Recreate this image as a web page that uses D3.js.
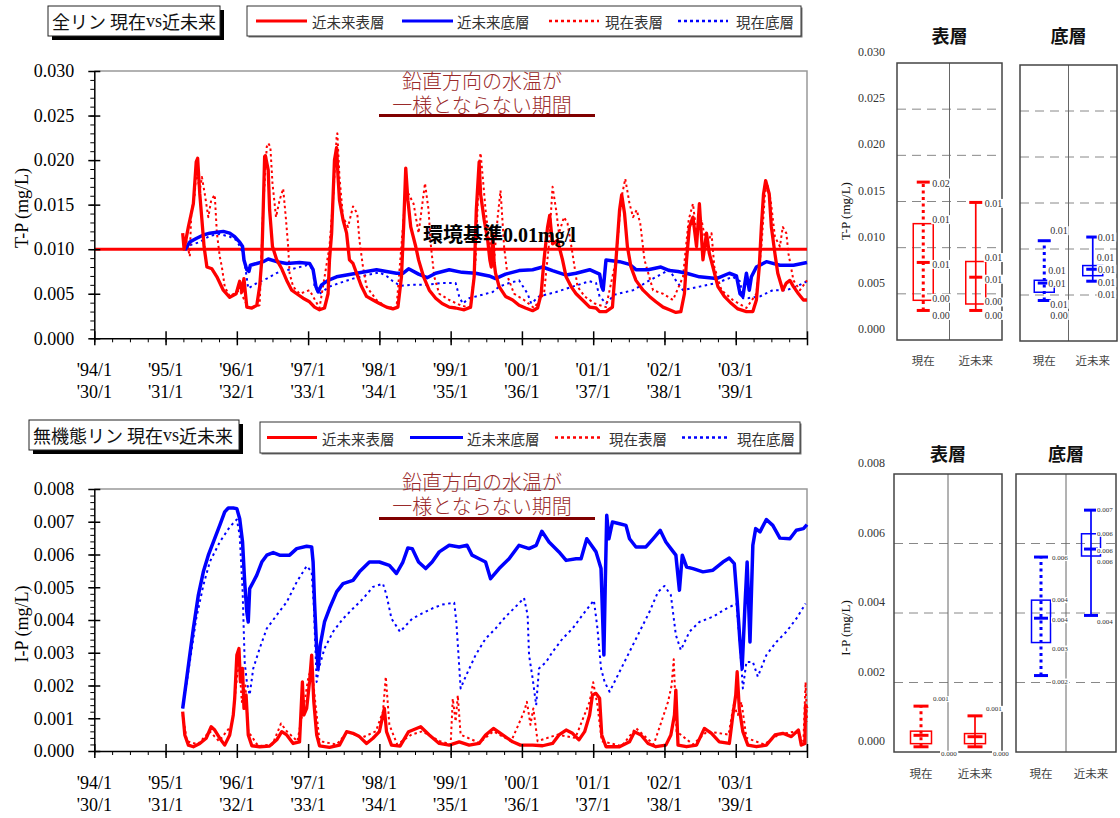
<!DOCTYPE html>
<html><head><meta charset="utf-8">
<script src="https://cdn.jsdelivr.net/npm/d3@7"></script>
<style>body{margin:0;background:#fff}svg{display:block}</style>
</head><body>
<svg id="c" width="1120" height="818"></svg>
<script>
// ---------------- DATA ----------------
const seriesNames = ["近未来表層","近未来底層","現在表層","現在底層"];
const yearTicks = [1994,1995,1996,1997,1998,1999,2000,2001,2002,2003,2004];
const tickRow1 = ["'94/1","'95/1","'96/1","'97/1","'98/1","'99/1","'00/1","'01/1","'02/1","'03/1"];
const tickRow2 = ["'30/1","'31/1","'32/1","'33/1","'34/1","'35/1","'36/1","'37/1","'38/1","'39/1"];
const tpStandard = 0.010;
const tpStandardLabel = "環境基準0.01mg/l";
const annLines = ["鉛直方向の水温が","一様とならない期間"];

// T-P 近未来表層
const tpNearSurf = [[1995.24,.0118],[1995.26,.0100],[1995.32,.0125],[1995.39,.0151],[1995.43,.0198],[1995.45,.0202],[1995.48,.0162],[1995.51,.0133],[1995.54,.0103],[1995.58,.0080],[1995.65,.0078],[1995.72,.0069],[1995.81,.0054],[1995.90,.0046],[1995.99,.0050],[1996.04,.0064],[1996.07,.0052],[1996.10,.0067],[1996.14,.0035],[1996.21,.0034],[1996.28,.0037],[1996.32,.0058],[1996.35,.0088],[1996.37,.0144],[1996.39,.0204],[1996.40,.0205],[1996.44,.0189],[1996.46,.0144],[1996.50,.0103],[1996.56,.0088],[1996.63,.0078],[1996.70,.0065],[1996.77,.0054],[1996.84,.0050],[1996.93,.0045],[1997.02,.0041],[1997.09,.0035],[1997.16,.0032],[1997.23,.0034],[1997.28,.0050],[1997.30,.0088],[1997.33,.0118],[1997.37,.0200],[1997.40,.0214],[1997.42,.0181],[1997.44,.0155],[1997.49,.0133],[1997.54,.0118],[1997.58,.0088],[1997.63,.0084],[1997.68,.0073],[1997.75,.0058],[1997.82,.0047],[1997.91,.0043],[1998.00,.0039],[1998.10,.0035],[1998.19,.0033],[1998.26,.0035],[1998.31,.0069],[1998.34,.0125],[1998.37,.0191],[1998.40,.0155],[1998.44,.0125],[1998.51,.0103],[1998.55,.0088],[1998.62,.0069],[1998.70,.0054],[1998.79,.0045],[1998.88,.0039],[1998.98,.0035],[1999.07,.0034],[1999.19,.0032],[1999.28,.0035],[1999.33,.0069],[1999.36,.0144],[1999.40,.0198],[1999.42,.0162],[1999.47,.0133],[1999.52,.0110],[1999.55,.0088],[1999.57,.0080],[1999.59,.0118],[1999.61,.0085],[1999.63,.0073],[1999.68,.0058],[1999.77,.0047],[1999.87,.0043],[1999.96,.0037],[2000.05,.0034],[2000.15,.0031],[2000.22,.0034],[2000.27,.0050],[2000.31,.0088],[2000.36,.0125],[2000.39,.0138],[2000.43,.0106],[2000.50,.0110],[2000.57,.0088],[2000.62,.0069],[2000.69,.0058],[2000.76,.0050],[2000.85,.0043],[2000.95,.0035],[2001.04,.0034],[2001.09,.0030],[2001.18,.0030],[2001.27,.0035],[2001.32,.0088],[2001.37,.0144],[2001.40,.0161],[2001.44,.0140],[2001.48,.0103],[2001.53,.0080],[2001.60,.0065],[2001.70,.0054],[2001.79,.0047],[2001.88,.0041],[2001.98,.0035],[2002.07,.0032],[2002.16,.0029],[2002.23,.0030],[2002.28,.0050],[2002.31,.0088],[2002.35,.0125],[2002.40,.0136],[2002.45,.0103],[2002.49,.0151],[2002.54,.0088],[2002.59,.0118],[2002.63,.0095],[2002.68,.0080],[2002.75,.0058],[2002.84,.0047],[2002.94,.0039],[2003.03,.0033],[2003.15,.0030],[2003.24,.0030],[2003.29,.0043],[2003.33,.0080],[2003.36,.0125],[2003.39,.0162],[2003.42,.0177],[2003.47,.0162],[2003.50,.0125],[2003.55,.0095],[2003.59,.0073],[2003.66,.0054],[2003.71,.0062],[2003.76,.0065],[2003.81,.0058],[2003.88,.0050],[2003.95,.0043],[2004.00,.0043]];
// T-P 近未来底層
const tpNearBot = [[1995.27,.0099],[1995.34,.0108],[1995.43,.0112],[1995.53,.0116],[1995.62,.0118],[1995.72,.0119],[1995.81,.0120],[1995.90,.0118],[1995.97,.0114],[1996.04,.0108],[1996.08,.0103],[1996.10,.0088],[1996.14,.0077],[1996.17,.0075],[1996.19,.0082],[1996.28,.0084],[1996.37,.0086],[1996.44,.0089],[1996.56,.0086],[1996.70,.0084],[1996.88,.0085],[1997.02,.0084],[1997.07,.0077],[1997.11,.0058],[1997.14,.0052],[1997.19,.0060],[1997.28,.0065],[1997.40,.0069],[1997.54,.0071],[1997.68,.0073],[1997.82,.0075],[1997.96,.0077],[1998.10,.0075],[1998.24,.0073],[1998.33,.0073],[1998.41,.0078],[1998.55,.0072],[1998.67,.0068],[1998.79,.0073],[1998.98,.0077],[1999.16,.0074],[1999.35,.0073],[1999.54,.0070],[1999.63,.0067],[1999.77,.0072],[1999.96,.0076],[2000.15,.0077],[2000.29,.0080],[2000.43,.0076],[2000.62,.0071],[2000.76,.0073],[2000.95,.0077],[2001.09,.0072],[2001.12,.0058],[2001.14,.0054],[2001.18,.0088],[2001.37,.0086],[2001.51,.0083],[2001.60,.0077],[2001.77,.0077],[2001.95,.0080],[2002.07,.0076],[2002.19,.0075],[2002.31,.0073],[2002.49,.0069],[2002.73,.0067],[2002.91,.0073],[2003.01,.0070],[2003.06,.0050],[2003.10,.0047],[2003.15,.0073],[2003.19,.0054],[2003.22,.0069],[2003.29,.0080],[2003.43,.0086],[2003.62,.0082],[2003.81,.0082],[2004.00,.0085]];
// T-P 現在表層
const tpPresSurf = [[1995.29,.0110],[1995.34,.0092],[1995.36,.0140],[1995.41,.0162],[1995.43,.0189],[1995.48,.0166],[1995.51,.0181],[1995.55,.0162],[1995.60,.0136],[1995.64,.0155],[1995.69,.0161],[1995.72,.0118],[1995.76,.0092],[1995.79,.0080],[1995.83,.0058],[1995.90,.0047],[1996.04,.0054],[1996.16,.0034],[1996.32,.0037],[1996.37,.0148],[1996.42,.0215],[1996.44,.0219],[1996.47,.0215],[1996.50,.0174],[1996.55,.0136],[1996.60,.0155],[1996.65,.0168],[1996.69,.0133],[1996.72,.0103],[1996.74,.0073],[1996.79,.0058],[1996.88,.0050],[1997.02,.0054],[1997.16,.0034],[1997.30,.0103],[1997.35,.0155],[1997.40,.0226],[1997.41,.0230],[1997.44,.0181],[1997.49,.0136],[1997.56,.0125],[1997.63,.0148],[1997.69,.0140],[1997.72,.0110],[1997.77,.0080],[1997.82,.0058],[1997.96,.0043],[1998.10,.0035],[1998.24,.0034],[1998.36,.0155],[1998.41,.0162],[1998.48,.0151],[1998.55,.0118],[1998.64,.0174],[1998.69,.0144],[1998.72,.0106],[1998.77,.0069],[1998.84,.0050],[1998.98,.0043],[1999.14,.0037],[1999.28,.0034],[1999.35,.0088],[1999.40,.0196],[1999.42,.0208],[1999.45,.0181],[1999.49,.0144],[1999.54,.0110],[1999.61,.0088],[1999.66,.0136],[1999.70,.0166],[1999.75,.0103],[1999.80,.0069],[1999.89,.0050],[2000.03,.0043],[2000.17,.0034],[2000.31,.0050],[2000.38,.0106],[2000.43,.0170],[2000.48,.0144],[2000.52,.0118],[2000.59,.0136],[2000.64,.0129],[2000.71,.0095],[2000.78,.0058],[2000.88,.0047],[2001.02,.0039],[2001.18,.0035],[2001.32,.0088],[2001.39,.0155],[2001.45,.0179],[2001.51,.0151],[2001.56,.0136],[2001.61,.0144],[2001.66,.0129],[2001.72,.0088],[2001.84,.0054],[2001.98,.0050],[2002.12,.0043],[2002.26,.0069],[2002.34,.0133],[2002.40,.0151],[2002.45,.0118],[2002.52,.0133],[2002.59,.0103],[2002.66,.0118],[2002.70,.0080],[2002.80,.0054],[2002.96,.0043],[2003.15,.0034],[2003.29,.0050],[2003.36,.0103],[2003.41,.0162],[2003.44,.0174],[2003.49,.0155],[2003.55,.0114],[2003.62,.0103],[2003.66,.0125],[2003.71,.0118],[2003.74,.0095],[2003.81,.0065],[2003.90,.0054],[2004.00,.0065]];
// T-P 現在底層
const tpPresBot = [[1995.27,.0101],[1995.36,.0105],[1995.48,.0108],[1995.62,.0115],[1995.76,.0117],[1995.90,.0114],[1996.00,.0110],[1996.09,.0095],[1996.13,.0073],[1996.16,.0056],[1996.28,.0062],[1996.42,.0067],[1996.60,.0075],[1996.79,.0078],[1996.98,.0082],[1997.07,.0078],[1997.09,.0058],[1997.16,.0050],[1997.30,.0058],[1997.44,.0062],[1997.63,.0067],[1997.82,.0071],[1998.00,.0074],[1998.10,.0070],[1998.19,.0064],[1998.29,.0059],[1998.46,.0060],[1998.65,.0060],[1998.88,.0062],[1999.07,.0062],[1999.12,.0047],[1999.17,.0039],[1999.26,.0045],[1999.45,.0049],[1999.59,.0052],[1999.68,.0058],[1999.82,.0062],[1999.96,.0065],[2000.08,.0050],[2000.13,.0039],[2000.24,.0047],[2000.48,.0052],[2000.71,.0058],[2000.95,.0064],[2001.04,.0062],[2001.09,.0047],[2001.18,.0039],[2001.30,.0049],[2001.56,.0054],[2001.79,.0065],[2001.98,.0073],[2002.07,.0077],[2002.16,.0065],[2002.26,.0054],[2002.49,.0058],[2002.73,.0062],[2002.96,.0069],[2003.06,.0064],[2003.10,.0045],[2003.17,.0045],[2003.34,.0047],[2003.52,.0054],[2003.71,.0054],[2003.85,.0058],[2004.00,.0064]];

// I-P 近未来表層
const ipNearSurf = [[1995.24,.00120],[1995.27,.00049],[1995.32,.00018],[1995.39,.00013],[1995.48,.00023],[1995.57,.00039],[1995.64,.00074],[1995.69,.00064],[1995.76,.00039],[1995.83,.00018],[1995.90,.00049],[1995.95,.00110],[1995.97,.00161],[1996.00,.00293],[1996.03,.00313],[1996.05,.00211],[1996.08,.00252],[1996.10,.00130],[1996.13,.00171],[1996.16,.00049],[1996.21,.00016],[1996.32,.00013],[1996.46,.00015],[1996.56,.00034],[1996.63,.00059],[1996.70,.00049],[1996.79,.00023],[1996.88,.00028],[1996.92,.00211],[1996.94,.00110],[1996.98,.00130],[1997.02,.00211],[1997.05,.00293],[1997.08,.00150],[1997.12,.00049],[1997.16,.00016],[1997.30,.00011],[1997.44,.00018],[1997.54,.00059],[1997.63,.00054],[1997.72,.00044],[1997.82,.00023],[1997.91,.00039],[1998.00,.00059],[1998.07,.00130],[1998.10,.00059],[1998.17,.00018],[1998.29,.00015],[1998.41,.00059],[1998.58,.00074],[1998.70,.00049],[1998.84,.00023],[1998.98,.00018],[1999.12,.00028],[1999.26,.00018],[1999.40,.00023],[1999.49,.00049],[1999.60,.00069],[1999.73,.00049],[1999.87,.00028],[1999.98,.00018],[2000.15,.00018],[2000.29,.00016],[2000.43,.00023],[2000.52,.00049],[2000.62,.00064],[2000.71,.00054],[2000.80,.00034],[2000.88,.00059],[2000.95,.00110],[2000.99,.00171],[2001.04,.00176],[2001.09,.00161],[2001.12,.00049],[2001.18,.00013],[2001.37,.00013],[2001.51,.00028],[2001.58,.00059],[2001.67,.00049],[2001.77,.00023],[2001.88,.00013],[2002.02,.00018],[2002.09,.00049],[2002.14,.00110],[2002.16,.00186],[2002.19,.00018],[2002.31,.00013],[2002.45,.00018],[2002.56,.00069],[2002.66,.00054],[2002.77,.00028],[2002.91,.00023],[2002.96,.00110],[2003.00,.00171],[2003.02,.00242],[2003.05,.00130],[2003.10,.00059],[2003.17,.00018],[2003.29,.00013],[2003.43,.00018],[2003.55,.00049],[2003.66,.00054],[2003.78,.00044],[2003.88,.00064],[2003.92,.00018],[2003.97,.00023],[2003.98,.00140],[2004.00,.00130]];
// I-P 近未来底層
const ipNearBot = [[1995.24,.00130],[1995.29,.00211],[1995.34,.00293],[1995.39,.00374],[1995.46,.00476],[1995.53,.00547],[1995.60,.00598],[1995.67,.00638],[1995.76,.00689],[1995.83,.00730],[1995.88,.00742],[1995.95,.00742],[1996.00,.00740],[1996.04,.00709],[1996.08,.00638],[1996.11,.00516],[1996.14,.00425],[1996.16,.00394],[1996.18,.00496],[1996.23,.00516],[1996.28,.00537],[1996.35,.00577],[1996.42,.00598],[1996.51,.00606],[1996.60,.00598],[1996.74,.00598],[1996.84,.00618],[1996.98,.00625],[1997.05,.00623],[1997.07,.00577],[1997.09,.00455],[1997.12,.00313],[1997.14,.00252],[1997.17,.00323],[1997.23,.00394],[1997.30,.00435],[1997.40,.00486],[1997.49,.00511],[1997.63,.00521],[1997.72,.00547],[1997.86,.00577],[1998.00,.00577],[1998.14,.00567],[1998.24,.00542],[1998.33,.00577],[1998.40,.00620],[1998.46,.00618],[1998.55,.00577],[1998.65,.00557],[1998.74,.00577],[1998.84,.00608],[1998.98,.00628],[1999.12,.00623],[1999.23,.00628],[1999.30,.00598],[1999.40,.00587],[1999.49,.00577],[1999.56,.00526],[1999.68,.00557],[1999.82,.00587],[1999.96,.00628],[2000.10,.00618],[2000.20,.00628],[2000.28,.00671],[2000.38,.00638],[2000.52,.00608],[2000.62,.00582],[2000.76,.00587],[2000.83,.00587],[2000.91,.00648],[2001.04,.00608],[2001.11,.00557],[2001.15,.00293],[2001.17,.00516],[2001.19,.00720],[2001.22,.00648],[2001.27,.00699],[2001.37,.00694],[2001.46,.00689],[2001.51,.00648],[2001.60,.00623],[2001.74,.00623],[2001.84,.00648],[2001.94,.00674],[2002.02,.00638],[2002.09,.00618],[2002.16,.00598],[2002.21,.00491],[2002.25,.00598],[2002.31,.00562],[2002.40,.00557],[2002.54,.00547],[2002.68,.00552],[2002.82,.00577],[2002.91,.00589],[2002.98,.00572],[2003.02,.00460],[2003.06,.00333],[2003.09,.00252],[2003.13,.00445],[2003.16,.00577],[2003.20,.00333],[2003.24,.00628],[2003.28,.00679],[2003.34,.00669],[2003.43,.00707],[2003.52,.00689],[2003.62,.00650],[2003.76,.00648],[2003.85,.00674],[2003.95,.00679],[2004.00,.00691]];
// I-P 現在表層
const ipPresSurf = [[1995.24,.00110],[1995.30,.00030],[1995.45,.00020],[1995.62,.00060],[1995.75,.00030],[1995.93,.00080],[1996.00,.00220],[1996.03,.00280],[1996.07,.00150],[1996.12,.00200],[1996.16,.00060],[1996.30,.00015],[1996.50,.00020],[1996.62,.00084],[1996.70,.00060],[1996.85,.00030],[1996.95,.00150],[1997.00,.00220],[1997.05,.00260],[1997.10,.00150],[1997.16,.00030],[1997.40,.00020],[1997.56,.00060],[1997.75,.00040],[1997.95,.00060],[1998.05,.00120],[1998.09,.00227],[1998.14,.00080],[1998.25,.00020],[1998.45,.00050],[1998.60,.00060],[1998.85,.00030],[1999.00,.00020],[1999.03,.00160],[1999.07,.00090],[1999.10,.00170],[1999.14,.00050],[1999.40,.00025],[1999.60,.00060],[1999.85,.00030],[2000.03,.00120],[2000.07,.00150],[2000.12,.00080],[2000.16,.00130],[2000.22,.00030],[2000.50,.00050],[2000.75,.00040],[2000.95,.00150],[2001.00,.00210],[2001.06,.00140],[2001.12,.00030],[2001.40,.00015],[2001.60,.00070],[2001.85,.00020],[2002.05,.00150],[2002.10,.00200],[2002.13,.00280],[2002.17,.00060],[2002.40,.00020],[2002.60,.00060],[2002.90,.00050],[2002.97,.00140],[2003.03,.00110],[2003.08,.00150],[2003.15,.00040],[2003.40,.00020],[2003.60,.00050],[2003.85,.00060],[2003.95,.00030],[2003.98,.00210],[2004.00,.00090]];
// I-P 現在底層
const ipPresBot = [[1995.24,.00130],[1995.34,.00272],[1995.43,.00404],[1995.53,.00506],[1995.62,.00577],[1995.76,.00638],[1995.90,.00684],[1996.00,.00707],[1996.04,.00659],[1996.08,.00496],[1996.11,.00272],[1996.14,.00211],[1996.18,.00171],[1996.23,.00252],[1996.32,.00313],[1996.42,.00374],[1996.56,.00415],[1996.70,.00455],[1996.84,.00516],[1996.98,.00565],[1997.05,.00547],[1997.08,.00445],[1997.12,.00211],[1997.15,.00252],[1997.23,.00313],[1997.35,.00364],[1997.49,.00404],[1997.63,.00435],[1997.77,.00465],[1997.91,.00501],[1998.05,.00511],[1998.10,.00476],[1998.17,.00404],[1998.29,.00364],[1998.46,.00404],[1998.60,.00420],[1998.74,.00435],[1998.88,.00447],[1999.05,.00453],[1999.08,.00394],[1999.11,.00293],[1999.14,.00191],[1999.21,.00227],[1999.35,.00293],[1999.49,.00343],[1999.63,.00374],[1999.77,.00410],[1999.91,.00440],[2000.03,.00467],[2000.08,.00415],[2000.10,.00293],[2000.15,.00222],[2000.20,.00140],[2000.24,.00252],[2000.34,.00272],[2000.43,.00303],[2000.57,.00343],[2000.71,.00374],[2000.85,.00415],[2001.01,.00460],[2001.06,.00374],[2001.11,.00252],[2001.16,.00211],[2001.23,.00181],[2001.37,.00242],[2001.51,.00303],[2001.65,.00364],[2001.79,.00425],[2001.91,.00486],[2002.00,.00504],[2002.09,.00476],[2002.16,.00354],[2002.23,.00308],[2002.35,.00364],[2002.49,.00394],[2002.68,.00410],[2002.87,.00435],[2003.01,.00450],[2003.06,.00323],[2003.10,.00191],[2003.15,.00272],[2003.24,.00272],[2003.31,.00227],[2003.43,.00293],[2003.57,.00333],[2003.71,.00364],[2003.85,.00404],[2003.98,.00450]];

// Box plots: [lower whisker, Q1, median, Q3, upper whisker]
const boxCats = ["現在","近未来"];
const tpSurfBox = [[0.0032,0.0043,0.0084,0.0126,0.0171],[0.0032,0.0039,0.0068,0.0085,0.0149]];
const tpBotBox  = [[0.0044,0.0053,0.0063,0.0066,0.0109],[0.0065,0.0071,0.0078,0.0082,0.0113]];
const ipSurfBox = [[0.00015,0.00024,0.00048,0.00060,0.00132],[0.00015,0.00024,0.00044,0.00053,0.00104]];
const ipBotBox  = [[0.0022,0.00315,0.00385,0.00437,0.00561],[0.00393,0.00564,0.00584,0.00628,0.00696]];

// ---------------- DRAWING ----------------
const svg = d3.select("#c");
const SERIF = "'Liberation Serif','Times New Roman',serif";
const SANS = "'Noto Sans CJK JP','Noto Sans',sans-serif";
const RED = "#ff0000", BLUE = "#0000ff";
const styles = [
  {color:RED, dash:null, w:3.3},
  {color:BLUE, dash:null, w:3.5},
  {color:RED, dash:"2.5,3", w:2},
  {color:BLUE, dash:"2.5,3.5", w:2}
];

const x = d3.scaleLinear().domain([1994,2004]).range([94.3,807]);

function titleBox(o){
  const g = svg.append("g");
  g.append("rect").attr("x",o.x+4).attr("y",o.y+4).attr("width",o.w).attr("height",o.h).attr("fill","#000");
  g.append("rect").attr("x",o.x).attr("y",o.y).attr("width",o.w).attr("height",o.h).attr("fill","#fff").attr("stroke","#222").attr("stroke-width",1);
  const t = g.append("text").attr("x",o.x+4).attr("y",o.y+o.h/2).attr("dominant-baseline","central")
    .attr("font-family",SANS).attr("font-size",o.fs).attr("fill","#111");
  o.parts.forEach(p=>t.append("tspan").attr("font-family",p[1]?SERIF:SANS).text(p[0]));
}

function legendBox(o){
  const g = svg.append("g");
  g.append("rect").attr("x",o.x+1.5).attr("y",o.y+1.5).attr("width",o.w).attr("height",o.h).attr("fill","#777");
  g.append("rect").attr("x",o.x).attr("y",o.y).attr("width",o.w).attr("height",o.h).attr("fill","#fff").attr("stroke","#333").attr("stroke-width",1);
  const cy = o.y+o.h/2;
  seriesNames.forEach((n,i)=>{
    const s = styles[i], it = o.items[i];
    g.append("line").attr("x1",it[0]).attr("x2",it[1]).attr("y1",cy).attr("y2",cy)
      .attr("stroke",s.color).attr("stroke-width",s.dash?2.5:3).attr("stroke-dasharray",s.dash?"3,3":null);
    g.append("text").attr("x",it[2]).attr("y",cy+0.5).attr("dominant-baseline","central")
      .attr("font-family",SANS).attr("font-size",14.5).attr("fill","#333").text(n);
  });
}

function drawMain(o){
  const g = svg.append("g");
  const y = d3.scaleLinear().domain([0,o.yMax]).range([o.bottom,o.top]);
  // frame (top/right)
  g.append("path").attr("d",`M${x(1994)},${o.top}H${x(2004)}V${o.bottom}`)
    .attr("fill","none").attr("stroke","#999").attr("stroke-width",1.5);
  // annotation (two lines)
  annLines.forEach((s,i)=>g.append("text").attr("x",482).attr("y",o.ann[i]).attr("text-anchor","middle")
    .attr("dominant-baseline","central").attr("font-family",SANS).attr("font-weight",300)
    .attr("font-size",20).attr("fill","#9a2a2a").text(s));
  g.append("line").attr("x1",379).attr("x2",595).attr("y1",o.ann[2]).attr("y2",o.ann[2])
    .attr("stroke","#800000").attr("stroke-width",3);
  // standard line
  if(o.std!=null){
    g.append("line").attr("x1",x(1994)).attr("x2",x(2004)).attr("y1",y(o.std)).attr("y2",y(o.std))
      .attr("stroke",RED).attr("stroke-width",3);
  }
  // series (dotted first, then solid)
  const line = d3.line().x(d=>x(d[0])).y(d=>y(d[1]));
  [3,2,1,0].forEach(i=>{
    const s = styles[i];
    g.append("path").datum(o.series[i]).attr("d",line).attr("fill","none")
      .attr("stroke",s.color).attr("stroke-width",s.w).attr("stroke-linejoin","round")
      .attr("stroke-dasharray",s.dash);
  });
  if(o.std!=null){
    g.append("text").attr("x",423).attr("y",y(o.std)-14).attr("dominant-baseline","central")
      .attr("font-family",SERIF+",'Noto Sans CJK JP'").attr("font-weight","bold").attr("font-size",20).attr("fill","#000").text(tpStandardLabel);
  }
  // axes
  const majors = d3.range(0,Math.round(o.yMax/o.major)+1).map(k=>k*o.major);
  const minors = d3.range(0,Math.round(o.yMax/o.minor)+1).map(k=>k*o.minor);
  g.append("g").attr("transform",`translate(${x(1994)},0)`)
    .call(d3.axisLeft(y).tickValues(minors).tickSize(4).tickSizeOuter(0).tickFormat(""))
    .call(s=>s.selectAll("line").attr("stroke","#000").attr("stroke-width",1)).call(s=>s.select(".domain").remove());
  const ya = g.append("g").attr("transform",`translate(${x(1994)},0)`)
    .call(d3.axisLeft(y).tickValues(majors).tickSize(6).tickSizeOuter(0).tickPadding(14).tickFormat(d3.format(".3f")));
  ya.selectAll(".tick line").attr("x2",-6).attr("x1",6);
  ya.selectAll("path,line").attr("stroke","#000").attr("stroke-width",1.5);
  ya.selectAll("text").attr("font-family",SERIF).attr("font-size",18).attr("fill","#000");
  // x axis
  const quarters = d3.range(0,41).map(k=>1994+k*0.25);
  g.append("g").attr("transform",`translate(0,${o.bottom})`)
    .call(d3.axisBottom(x).tickValues(quarters).tickSize(4).tickSizeOuter(0).tickFormat(""))
    .call(s=>s.selectAll("line").attr("stroke","#000").attr("stroke-width",1)).call(s=>s.select(".domain").remove());
  const xa = g.append("g").attr("transform",`translate(0,${o.bottom})`)
    .call(d3.axisBottom(x).tickValues(yearTicks).tickSize(7).tickSizeOuter(0).tickFormat(""));
  xa.selectAll(".tick line").attr("y1",-7);
  xa.selectAll("path,line").attr("stroke","#000").attr("stroke-width",1.5);
  // two-row year labels
  const lab = g.append("g").attr("font-family",SERIF).attr("font-size",18).attr("fill","#000").attr("text-anchor","middle");
  lab.selectAll("text.r1").data(tickRow1).join("text").attr("class","r1").attr("x",(d,i)=>x(yearTicks[i])).attr("y",o.bottom+o.lab[0])
    .attr("dominant-baseline","central").text(d=>d);
  lab.selectAll("text.r2").data(tickRow2).join("text").attr("class","r2").attr("x",(d,i)=>x(yearTicks[i])).attr("y",o.bottom+o.lab[1])
    .attr("dominant-baseline","central").text(d=>d);
  // y label
  g.append("text").attr("transform",`translate(22,${o.ylabY}) rotate(-90)`).attr("text-anchor","middle")
    .attr("dominant-baseline","central").attr("font-family",SERIF).attr("font-size",18).text(o.ylab);
}

function drawBoxPanel(o){
  const g = svg.append("g");
  const y = d3.scaleLinear().domain([0,o.yMax]).range([o.bottom,o.top]);
  const xb = d3.scaleBand().domain(boxCats).range([o.x0,o.x1]);
  const grid = d3.range(1,Math.round(o.yMax/o.step)).map(k=>k*o.step);
  g.selectAll("line.grid").data(grid).join("line").attr("x1",o.x0).attr("x2",o.x1)
    .attr("y1",d=>y(d)).attr("y2",d=>y(d)).attr("stroke","#888").attr("stroke-width",1).attr("stroke-dasharray","9,6");
  g.append("line").attr("x1",xb("近未来")).attr("x2",xb("近未来")).attr("y1",o.top).attr("y2",o.bottom)
    .attr("stroke","#666").attr("stroke-width",1);
  g.append("rect").attr("x",o.x0).attr("y",o.top).attr("width",o.x1-o.x0).attr("height",o.bottom-o.top)
    .attr("fill","none").attr("stroke","#444").attr("stroke-width",1.5);
  // title
  g.append("text").attr("x",(o.x0+o.x1)/2).attr("y",o.titleY).attr("text-anchor","middle").attr("dominant-baseline","central")
    .attr("font-family",SANS).attr("font-weight",700).attr("font-size",18).attr("fill","#111").text(o.title);
  // category labels
  boxCats.forEach(c=>g.append("text").attr("x",xb(c)+xb.bandwidth()/2).attr("y",o.catY).attr("text-anchor","middle")
    .attr("dominant-baseline","central").attr("font-family",SANS).attr("font-size",11.5).attr("fill","#444").text(c));
  // axis tick labels
  if(o.axis){
    const ticks = d3.range(0,Math.round(o.yMax/o.step)+1).map(k=>k*o.step);
    g.selectAll("text.tk").data(ticks).join("text").attr("class","tk").attr("x",885).attr("y",d=>y(d)-11).attr("text-anchor","end")
      .attr("dominant-baseline","central").attr("font-family",SERIF).attr("font-size",12).attr("fill","#333")
      .text(d3.format(".3f"));
    g.append("text").attr("transform",`translate(845,${o.ylabY}) rotate(-90)`).attr("text-anchor","middle")
      .attr("dominant-baseline","central").attr("font-family",SERIF).attr("font-size",13).attr("fill","#111").text(o.ylab);
  }
  const fmt = d3.format(o.fmt);
  o.boxes.forEach((b,i)=>{
    const cx = xb(boxCats[i]) + xb.bandwidth()/2;
    const bw = o.bw, cw = o.cw;
    g.append("line").attr("x1",cx).attr("x2",cx).attr("y1",y(b[0])).attr("y2",y(b[4]))
      .attr("stroke",o.color).attr("stroke-width",i===0?3:1.7).attr("stroke-dasharray",i===0?"3,3.5":null);
    g.append("rect").attr("x",cx-bw/2).attr("y",y(b[3])).attr("width",bw).attr("height",y(b[1])-y(b[3]))
      .attr("fill","none").attr("stroke",o.color).attr("stroke-width",1.5);
    [0,2,4].forEach(k=>g.append("line").attr("x1",cx-cw/2).attr("x2",cx+cw/2).attr("y1",y(b[k])).attr("y2",y(b[k]))
      .attr("stroke",o.color).attr("stroke-width",3));
    const L = o.labels[i];
    L.show.forEach(k=>{
      const t = g.append("text").attr("x",cx+L.dx[k]).attr("y",y(b[k])+L.dy[k]).attr("dominant-baseline","central")
        .attr("font-family",SERIF).attr("font-size",o.lfs).attr("fill","#333").text(fmt(b[k]));
      const bb = t.node().getBBox();
      g.insert("rect",()=>t.node()).attr("x",bb.x-1).attr("y",bb.y+1).attr("width",bb.width+2).attr("height",bb.height-2).attr("fill","#fff");
    });
  });
}

// ---- top: 全リン ----
titleBox({x:48,y:6,w:172,h:30,fs:18,parts:[["全リン 現在",0],["vs",1],["近未来",0]]});
legendBox({x:247,y:6,w:554,h:30,items:[[256,307,312],[402,453,457],[549,599,605],[678,728,736]]});
drawMain({top:71,bottom:338.3,yMax:0.030,major:0.005,minor:0.001,std:tpStandard,
  series:[tpNearSurf,tpNearBot,tpPresSurf,tpPresBot],ann:[80.5,104.5,115.5],lab:[32,54],ylab:"T-P (mg/L)",ylabY:208});

// ---- bottom: 無機態リン ----
titleBox({x:29,y:420,w:210,h:30,fs:18,parts:[["無機態リン 現在",0],["vs",1],["近未来",0]]});
legendBox({x:260,y:422,w:540,h:31,items:[[267,317,322],[410,463,467],[555,602,609],[682,730,737]]});
drawMain({top:489,bottom:751,yMax:0.008,major:0.001,minor:0.0002,std:null,
  series:[ipNearSurf,ipNearBot,ipPresSurf,ipPresBot],ann:[481,505,518.5],lab:[32,54],ylab:"I-P (mg/L)",ylabY:624});

// ---- box panels ----
const z5 = [0,1,2,3,4];
drawBoxPanel({x0:897,x1:1002,top:63,bottom:340,yMax:0.030,step:0.005,axis:true,ylab:"T-P (mg/L)",ylabY:211,
  title:"表層",titleY:35,catY:360,color:RED,boxes:tpSurfBox,fmt:".2f",lfs:10,bw:20,cw:13,
  labels:[{show:z5,dx:[9,9,9,9,9],dy:[5,-2,2,-4,1]},{show:z5,dx:[9,9,9,9,9],dy:[5,-2,2,-4,1]}]});
drawBoxPanel({x0:1020,x1:1117,top:65,bottom:341,yMax:0.030,step:0.005,axis:false,
  title:"底層",titleY:35,catY:360,color:BLUE,boxes:tpBotBox,fmt:".2f",lfs:10,bw:20,cw:13,
  labels:[{show:z5,dx:[6,6,4,4,6],dy:[15,12,0,-10,-10]},{show:z5,dx:[5,5,5,4,5],dy:[13,7,0,-8,0]}]});
drawBoxPanel({x0:894,x1:1002,top:474,bottom:752,yMax:0.008,step:0.002,axis:true,ylab:"I-P (mg/L)",ylabY:628,
  title:"表層",titleY:453,catY:773,color:RED,boxes:ipSurfBox,fmt:".3f",lfs:7,bw:21,cw:15,
  labels:[{show:[0,4],dx:[20,0,0,0,12],dy:[7,0,0,0,-7]},{show:[0,4],dx:[18,0,0,0,11],dy:[7,0,0,0,-7]}]});
drawBoxPanel({x0:1016,x1:1116,top:474,bottom:752,yMax:0.008,step:0.002,axis:false,
  title:"底層",titleY:453,catY:773,color:BLUE,boxes:ipBotBox,fmt:".3f",lfs:7,bw:19,cw:14,
  labels:[{show:z5,dx:[11,11,11,11,11],dy:[6,6,2,0,1]},{show:z5,dx:[6,6,6,6,6],dy:[7,6,2,0,0]}]});
</script>
</body></html>
